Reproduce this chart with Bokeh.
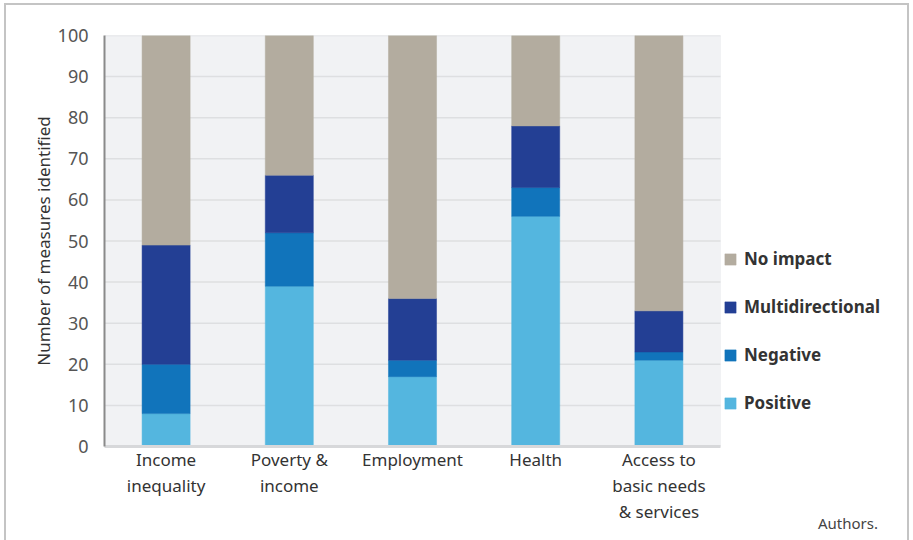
from bokeh.plotting import figure
from bokeh.models import Legend, LegendItem, FixedTicker, Div, LinearAxis, Range1d
from bokeh.layouts import column
from bokeh.embed import file_html
from bokeh.resources import INLINE

categories = ["Income inequality", "Poverty & income", "Employment", "Health",
              "Access to basic needs & services"]
label_line1 = ["Income", "Poverty &", "Employment", "Health", "Access to"]
label_line2 = ["inequality", "income", "", "", "basic needs"]
label_line3 = ["", "", "", "", "& services"]
positive = [8, 39, 17, 56, 21]
negative = [12, 13, 4, 7, 2]
multidirectional = [29, 14, 15, 15, 10]
no_impact = [51, 34, 64, 22, 67]
y_ticks = [0, 10, 20, 30, 40, 50, 60, 70, 80, 90, 100]

series_names = ["Positive", "Negative", "Multidirectional", "No impact"]
series_colors = ["#54b6df", "#1174bb", "#233f94", "#b3ac9f"]

FONT = "Noto Sans"
W, H = 901, 535
LEFT, TOP, BOTTOM = 98, 30, 94
PLOT_AREA_PX = 616          # width of the grey plotting area
n = len(categories)
xs = list(range(n))
frame_px = W - LEFT
x_end = -0.5 + n * frame_px / PLOT_AREA_PX

p = figure(x_range=Range1d(-0.5, x_end), y_range=Range1d(0, 100), width=W, height=H,
           output_backend="svg", toolbar_location=None,
           min_border_left=LEFT, min_border_right=0, min_border_top=TOP, min_border_bottom=BOTTOM)
p.background_fill_color = "white"
p.border_fill_color = "white"
p.outline_line_color = None
p.xgrid.grid_line_color = None
p.ygrid.grid_line_color = None

# grey plotting area and horizontal grid lines (limited to the category area)
p.quad(left=[-0.5], right=[n - 0.5], bottom=[0], top=[100], color="#f1f2f4")
p.segment(x0=[-0.5] * len(y_ticks), x1=[n - 0.5] * len(y_ticks), y0=y_ticks, y1=y_ticks,
          line_color="#dedfe1", line_width=1.5)

data = dict(x=xs, Positive=positive, Negative=negative, Multidirectional=multidirectional)
data["No impact"] = no_impact
renderers = p.vbar_stack(series_names, x="x", width=0.39, source=data,
                         color=series_colors, line_color=series_colors, line_width=0.5)

def style_x(ax, labels, standoff):
    ax.ticker = FixedTicker(ticks=xs)
    ax.major_label_overrides = {i: t for i, t in zip(xs, labels)}
    ax.major_label_text_font = FONT
    ax.major_label_text_font_size = "17px"
    ax.major_label_text_color = "#333333"
    ax.major_label_text_line_height = 0.72
    ax.major_tick_line_color = None
    ax.minor_tick_line_color = None
    ax.major_tick_out = 0
    ax.major_tick_in = 0
    ax.minor_tick_out = 0
    ax.minor_tick_in = 0
    ax.major_label_standoff = standoff
    ax.bounds = (-0.5, n - 0.5)

xa = p.xaxis[0]
style_x(xa, label_line1, 1)
xa.axis_line_color = "#d7d8da"
xa.axis_line_width = 3

for labels in [label_line2, label_line3]:
    ax = LinearAxis()
    style_x(ax, labels, 0)
    ax.axis_line_color = None
    p.add_layout(ax, "below")

p.yaxis.ticker = FixedTicker(ticks=y_ticks)
p.yaxis.major_label_text_font = FONT
p.yaxis.major_label_text_font_size = "18px"
p.yaxis.major_label_text_color = "#555555"
p.yaxis.major_tick_line_color = None
p.yaxis.minor_tick_line_color = None
p.yaxis.major_label_standoff = 10
p.yaxis.axis_line_color = "#8a8a8a"
p.yaxis.axis_line_width = 2
p.yaxis.axis_label = "Number of measures identified"
p.yaxis.axis_label_text_font = FONT
p.yaxis.axis_label_text_font_size = "17px"
p.yaxis.axis_label_text_font_style = "normal"
p.yaxis.axis_label_text_color = "#333333"
p.yaxis.axis_label_standoff = 0

# legend (reverse order: No impact on top)
items = []
for name, r in reversed(list(zip(series_names, renderers))):
    items.append(LegendItem(label=name, renderers=[r]))
legend = Legend(items=items, location=(PLOT_AREA_PX + 3, 32), orientation="vertical",
                padding=0, margin=0, spacing=25, label_height=20,
                glyph_height=14, glyph_width=14, label_standoff=7,
                border_line_color=None, background_fill_alpha=0,
                label_text_font=FONT, label_text_font_size="17px",
                label_text_font_style="bold", label_text_color="#333333")
p.add_layout(legend, "center")

p.styles = {"margin-left": "6px", "margin-top": "5px", "outline": "2px solid #c4c4c4"}

note = Div(text="Authors.", width=80, height=20,
           styles={"position": "absolute", "left": "813px", "top": "508px",
                   "font-family": FONT, "font-size": "15px", "color": "#444444"})

layout = column(p, note)
open("out.html", "w").write(file_html(layout, INLINE))
